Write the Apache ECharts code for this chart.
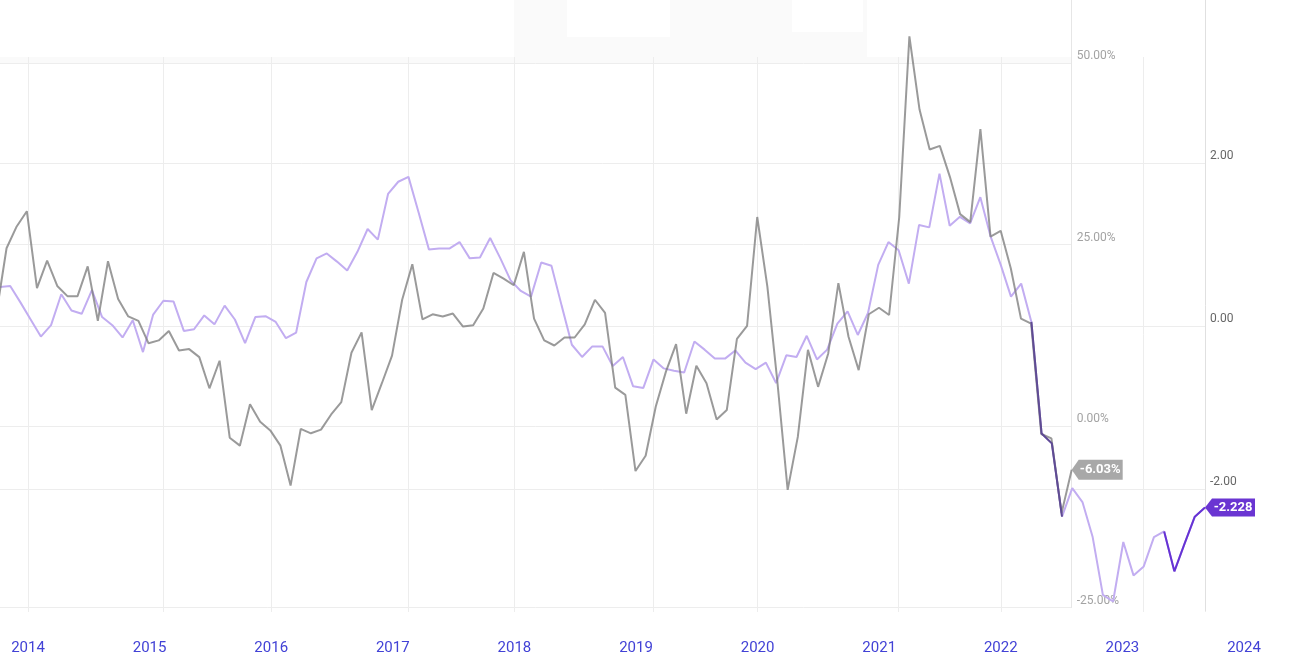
<!DOCTYPE html>
<html>
<head>
<meta charset="utf-8">
<script src="https://cdn.jsdelivr.net/npm/echarts@6/dist/echarts.min.js"></script>
<style>
html,body{margin:0;padding:0;background:#ffffff;}
#chart{width:1289px;height:670px;}
</style>
</head>
<body>
<div id="chart"></div>
<script>
// ---------------- DATA ----------------
// Grey series: YoY change in percent, monthly, starting Oct 2013
const greyStart = [2013, 10];
const greyPct = [
  15.5, 24.5, 27.5, 29.6, 19.0, 22.8, 19.3, 17.9, 17.9, 22.0, 14.5, 22.7,
  17.5, 15.1, 14.5, 11.4, 11.8, 13.1, 10.4, 10.6, 9.5, 5.2, 9.0, -1.6,
  -2.7, 3.0, 0.6, -0.6, -2.7, -8.2, -0.4, -1.0, -0.5, 1.6, 3.3, 10.1,
  12.9, 2.2, 5.9, 9.7, 17.4, 22.3, 14.7, 15.4, 15.1, 15.5, 13.7, 13.9,
  16.2, 21.1, 20.3, 19.4, 24.0, 14.8, 11.8, 11.1, 12.2, 12.2, 14.0, 17.4,
  15.6, 5.3, 4.3, -6.2, -4.1, 2.7, 7.5, 11.3, 1.7, 8.3, 5.9, 0.9,
  2.2, 12.0, 13.8, 28.8, 19.2, 5.9, -8.8, -1.5, 10.5, 5.4, 10.0, 19.7,
  12.3, 7.7, 15.4, 16.3, 15.3, 28.8, 53.7, 43.6, 38.1, 38.6, 34.3, 29.2,
  28.1, 40.9, 26.1, 26.9, 21.7, 14.8, 14.1, -1.1, -1.7, -12.0, -6.03
];
// Purple series: index value, monthly, starting Nov 2013
const purpleStart = [2013, 11];
const purpleVals = [
  0.48, 0.49, 0.29, 0.08, -0.13, 0.01, 0.39, 0.19, 0.15, 0.44, 0.11, 0.01,
  -0.14, 0.07, -0.32, 0.14, 0.31, 0.30, -0.06, -0.04, 0.13, 0.02, 0.25, 0.08,
  -0.21, 0.11, 0.12, 0.05, -0.15, -0.08, 0.54, 0.83, 0.89, 0.79, 0.68, 0.91,
  1.19, 1.06, 1.62, 1.77, 1.83, 1.39, 0.94, 0.95, 0.95, 1.03, 0.83, 0.84,
  1.08, 0.83, 0.56, 0.43, 0.36, 0.78, 0.74, 0.25, -0.23, -0.38, -0.25, -0.25,
  -0.49, -0.38, -0.74, -0.76, -0.41, -0.52, -0.55, -0.57, -0.19, -0.29, -0.40, -0.40,
  -0.30, -0.45, -0.53, -0.45, -0.70, -0.36, -0.38, -0.12, -0.41, -0.29, 0.03, 0.18,
  -0.11, 0.16, 0.75, 1.03, 0.93, 0.52, 1.24, 1.21, 1.87, 1.23, 1.34, 1.26,
  1.58, 1.10, 0.75, 0.36, 0.52, 0.05, -1.32, -1.44, -2.34, -1.99, -2.16, -2.59,
  -3.30, -3.38, -2.65, -3.06, -2.95, -2.59, -2.52, -3.01, -2.67, -2.34, -2.228
];
const yearLabels = [2014, 2015, 2016, 2017, 2018, 2019, 2020, 2021, 2022, 2023, 2024];
const pctTicks = [-25, 0, 25, 50];
const rightTicks = [-2, 0, 2];
// index ranges drawn in the darker purple
const overlapRange = [101, 104];
const latestRange = [114, 118];

// ---------------- HELPERS ----------------
function monthToYear(start, i) {
  const m = (start[1] - 1) + i;
  return start[0] + m / 12;
}
const greyData = greyPct.map((v, i) => [monthToYear(greyStart, i), v]);
const purpleData = purpleVals.map((v, i) => [monthToYear(purpleStart, i), v]);
function rangeData(range) {
  return purpleData.map((p, i) => (i >= range[0] && i <= range[1]) ? p : [p[0], null]);
}
const greyLast = greyData[greyData.length - 1];
const purpleLast = purpleData[purpleData.length - 1];

// ---------------- LAYOUT ----------------
const W = 1289, H = 670;
const FONT = 'Roboto, "Noto Sans", sans-serif';
const GRID_LINE = '#ededed';
const YEAR0_X = -93.6, YEAR_PX = 121.6;
const PCT_LEFT = -3.6, PCT_RIGHT = 1071.7;
const PCT_TOP50 = 63, PCT_BOT = 607.5;
const PUR_LEFT = 0, PUR_RIGHT = 1205;
const PUR_TOP = 0, PUR_BOT = 611.25;
const yearSplitColors = [];
for (let y = 2013; y <= 2025; y++) yearSplitColors.push((y % 2 === 0 && y <= 2022) ? GRID_LINE : 'rgba(0,0,0,0)');

const hiddenX = (grid) => ({ type: 'value', gridIndex: grid, show: false, min: 0, max: 1 });
const hiddenY = (grid) => ({ type: 'value', gridIndex: grid, show: false, min: 0, max: 1 });
const gridBase = { outerBoundsMode: 'none', containLabel: false };

const option = {
  animation: false,
  backgroundColor: '#ffffff',
  textStyle: { fontFamily: FONT },
  graphic: {
    elements: [
      { type: 'rect', silent: true, z: -5, shape: { x: 0, y: 57, width: 1072, height: 6 }, style: { fill: '#fafafa' } },
      { type: 'rect', silent: true, z: -5, shape: { x: 514, y: 0, width: 353, height: 57 }, style: { fill: '#fafafa' } },
      { type: 'rect', silent: true, z: -4, shape: { x: 567, y: 0, width: 103, height: 37 }, style: { fill: '#ffffff' } },
      { type: 'rect', silent: true, z: -4, shape: { x: 792, y: 0, width: 71, height: 32 }, style: { fill: '#ffffff' } }
    ]
  },
  grid: [
    Object.assign({ left: PCT_LEFT, right: W - PCT_RIGHT, top: 0, bottom: H - PCT_BOT }, gridBase),
    Object.assign({ left: PUR_LEFT, right: W - PUR_RIGHT, top: PUR_TOP, bottom: H - PUR_BOT }, gridBase),
    Object.assign({ left: YEAR0_X, right: W - (YEAR0_X + 12 * YEAR_PX), top: 57, bottom: H - 612 }, gridBase),
    Object.assign({ left: -82, right: W - (-82 + 6 * 245), top: 57, bottom: H - 612 }, gridBase),
    Object.assign({ left: PUR_LEFT, right: W - PUR_RIGHT, top: 163, bottom: H - 489 }, gridBase),
    Object.assign({ left: PCT_LEFT, right: W - PCT_RIGHT, top: PCT_TOP50, bottom: H - PCT_BOT }, gridBase)
  ],
  xAxis: [
    { type: 'value', gridIndex: 0, show: false, min: 'dataMin', max: 'dataMax' },
    { type: 'value', gridIndex: 1, show: false, min: 'dataMin', max: 'dataMax' },
    {
      type: 'value', gridIndex: 2, min: 2013, max: 2025, interval: 1,
      axisLine: { show: false }, axisTick: { show: false },
      axisLabel: {
        margin: 29, fontSize: 15, color: '#4242d6', fontFamily: FONT,
        formatter: (v) => yearLabels.includes(v) ? String(v) : ''
      },
      splitLine: { show: true, lineStyle: { color: yearSplitColors, width: 1 } }
    },
    {
      type: 'value', gridIndex: 3, min: 0, max: 12, interval: 2,
      axisLine: { show: false }, axisTick: { show: false }, axisLabel: { show: false },
      splitLine: { show: true, lineStyle: { color: GRID_LINE, width: 1 } }
    },
    hiddenX(4),
    hiddenX(5)
  ],
  yAxis: [
    {
      type: 'value', gridIndex: 0, position: 'right', min: -25, max: 58.7,
      axisLine: { show: true, lineStyle: { color: '#e6e6e6' } },
      axisTick: { show: false }, axisLabel: { show: false }, splitLine: { show: false }
    },
    {
      type: 'value', gridIndex: 1, position: 'right', min: -3.5, max: 4,
      axisLine: { show: true, lineStyle: { color: '#e0e0e0' } },
      axisTick: { show: false }, axisLabel: { show: false }, splitLine: { show: false }
    },
    hiddenY(2),
    hiddenY(3),
    {
      type: 'value', gridIndex: 4, position: 'right',
      min: rightTicks[0], max: rightTicks[rightTicks.length - 1], interval: 2,
      axisLine: { show: false },
      axisTick: { show: true, inside: true, length: 35, lineStyle: { color: '#e2e2e2' } },
      axisLabel: {
        margin: 5, fontSize: 12, color: '#666666', fontFamily: FONT,
        verticalAlign: 'bottom', lineHeight: 14,
        formatter: (v) => v.toFixed(2)
      },
      splitLine: { show: true, lineStyle: { color: GRID_LINE } }
    },
    {
      type: 'value', gridIndex: 5, position: 'right',
      min: pctTicks[0], max: pctTicks[pctTicks.length - 1], interval: 25,
      axisLine: { show: false }, axisTick: { show: false },
      axisLabel: {
        margin: 5, fontSize: 12, color: '#a3a3a3', fontFamily: FONT,
        verticalAlign: 'bottom', lineHeight: 14,
        formatter: (v) => v.toFixed(2) + '%'
      },
      splitLine: { show: true, lineStyle: { color: GRID_LINE } }
    }
  ],
  series: [
    {
      name: 'Purple', type: 'line', xAxisIndex: 1, yAxisIndex: 1,
      data: purpleData, showSymbol: false, symbol: 'none', z: 2,
      lineStyle: { color: '#c2adf1', width: 2 }
    },
    {
      name: 'Grey', type: 'line', xAxisIndex: 0, yAxisIndex: 0,
      data: greyData, showSymbol: false, symbol: 'none', z: 3,
      lineStyle: { color: 'rgba(125,125,125,0.78)', width: 2 },
      markPoint: {
        symbol: 'path://M0,10L7,0L51,0L51,20L7,20Z',
        symbolSize: [51, 20], symbolOffset: [25.5, 0], silent: true,
        itemStyle: { color: '#a8a8a8' },
        label: {
          show: true, position: 'inside', offset: [3, 0], color: '#ffffff',
          fontWeight: 'bold', fontSize: 13, fontFamily: FONT,
          formatter: () => greyLast[1].toFixed(2) + '%'
        },
        data: [{ coord: greyLast }]
      }
    },
    {
      name: 'PurpleOverlap', type: 'line', xAxisIndex: 1, yAxisIndex: 1,
      data: rangeData(overlapRange), showSymbol: false, symbol: 'none', z: 4,
      connectNulls: false, lineStyle: { color: '#5f4b94', width: 2 }
    },
    {
      name: 'PurpleLatest', type: 'line', xAxisIndex: 1, yAxisIndex: 1,
      data: rangeData(latestRange), showSymbol: false, symbol: 'none', z: 4,
      connectNulls: false, lineStyle: { color: '#6633d4', width: 2 },
      markPoint: {
        symbol: 'path://M0,9L7,0L50,0L50,18L7,18Z',
        symbolSize: [50, 18], symbolOffset: [25, 0], silent: true,
        itemStyle: { color: '#6a35d2' },
        label: {
          show: true, position: 'inside', offset: [3, 0], color: '#ffffff',
          fontWeight: 'bold', fontSize: 13, fontFamily: FONT,
          formatter: () => purpleLast[1].toFixed(3)
        },
        data: [{ coord: purpleLast }]
      }
    }
  ]
};

const chart = echarts.init(document.getElementById('chart'), null, { renderer: 'canvas' });
chart.setOption(option);
</script>
</body>
</html>
